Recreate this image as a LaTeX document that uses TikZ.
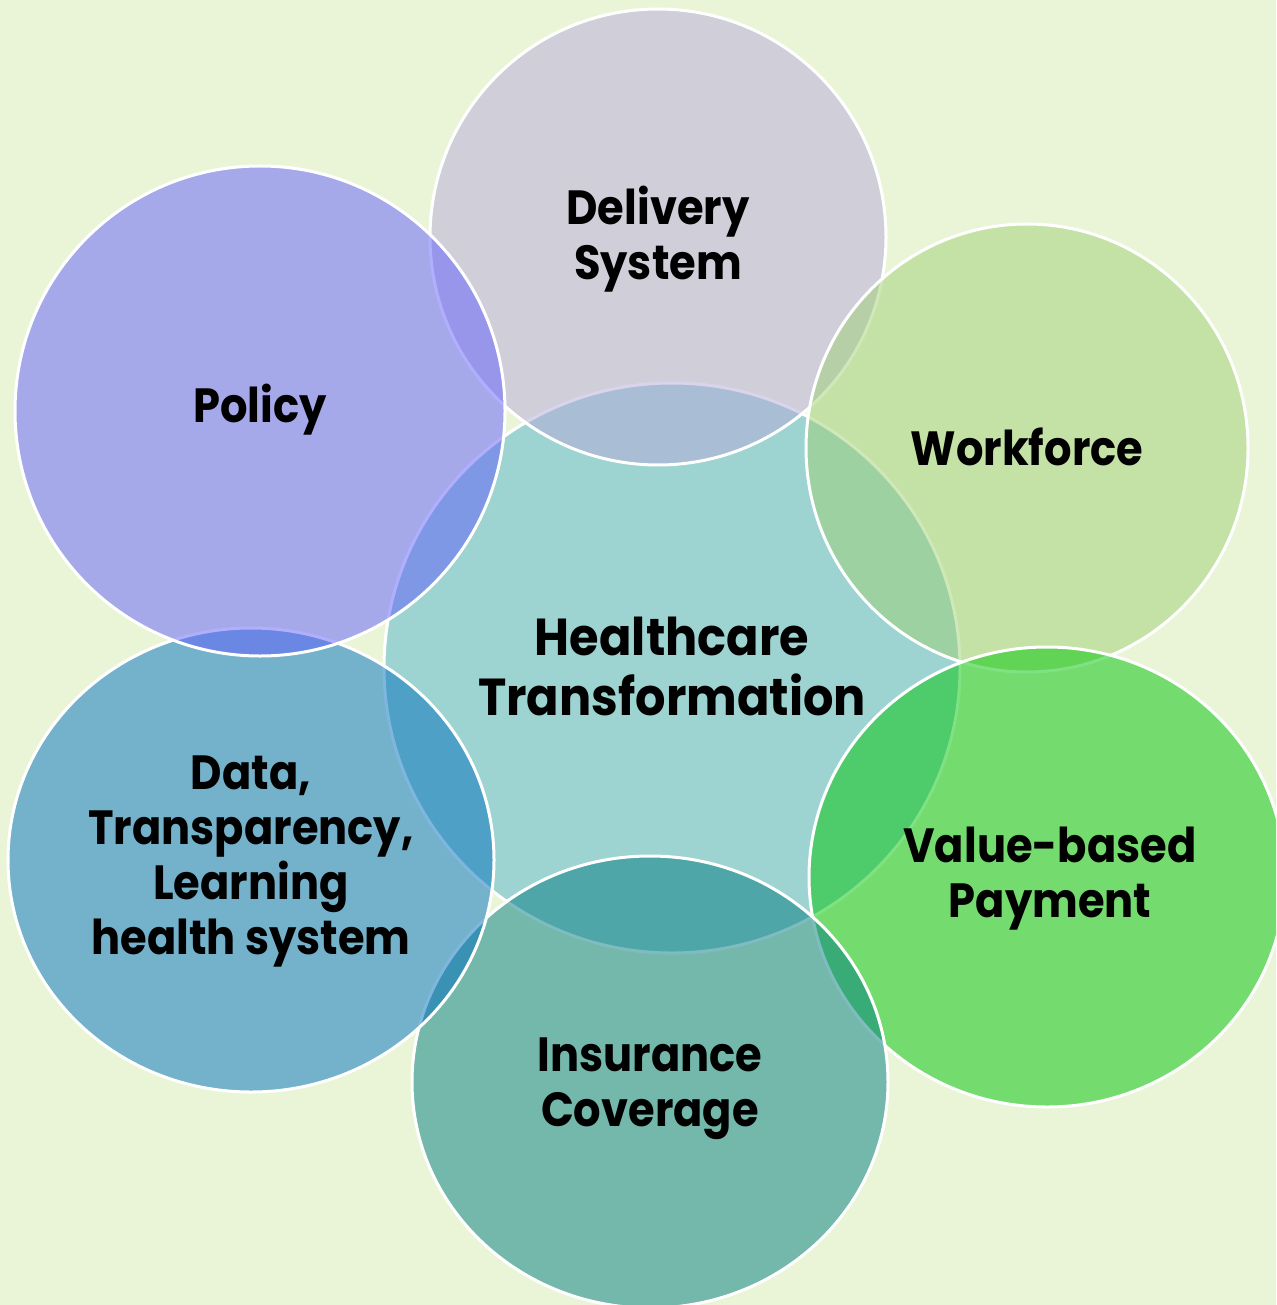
\documentclass[tikz,border=0pt]{standalone}
\usepackage{fontspec}
\newfontfamily\lblfont{Poppins}[BoldFont={Poppins Bold}, BoldFeatures={FakeStretch=0.9}]
\newfontfamily\ctrfont{Poppins}[BoldFont={Poppins Bold}, BoldFeatures={FakeStretch=0.92}]
\usetikzlibrary{shapes.geometric}
\definecolor{bgcol}{HTML}{EAF5D8}
\definecolor{ccenter}{HTML}{52B3CC}
\definecolor{cdeliv}{HTML}{B6A9DA}
\definecolor{cpolicy}{HTML}{625FFC}
\definecolor{cwork}{HTML}{A0D174}
\definecolor{cvalue}{HTML}{00C506}
\definecolor{cinsur}{HTML}{007B80}
\definecolor{cdata}{HTML}{006FBE}
\tikzset{
  bubble/.style={ellipse, draw=white, line width=3pt, fill opacity=0.5, inner sep=0pt},
  lbl/.style={align=center, text=black, font=\lblfont\bfseries\fontsize{48}{55}\selectfont, inner sep=0pt},
  ctrlbl/.style={align=center, text=black, font=\ctrfont\bfseries\fontsize{52}{60}\selectfont, inner sep=0pt}
}
\begin{document}
\begin{tikzpicture}[x=1pt,y=-1pt]
\useasboundingbox (0,0) rectangle (1276,1305);
\clip (0,0) rectangle (1276,1305);
\fill[bgcol] (0,0) rectangle (1276,1305);
\node[bubble, fill=ccenter, minimum width=576pt, minimum height=570pt] (center) at (672,668) {};
\node[bubble, fill=cdeliv, minimum width=456pt, minimum height=456pt] (deliv) at (658,237) {};
\node[bubble, fill=cwork, minimum width=442pt, minimum height=448pt] (work) at (1027,448) {};
\node[bubble, fill=cvalue, minimum width=476pt, minimum height=460pt] (value) at (1047,877) {};
\node[bubble, fill=cinsur, minimum width=476pt, minimum height=452pt] (insur) at (650,1082) {};
\node[bubble, fill=cdata, minimum width=486pt, minimum height=464pt] (data) at (251,860) {};
\node[bubble, fill=cpolicy, minimum width=490pt, minimum height=490pt] (policy) at (260,411) {};
\node[ctrlbl] (tcenter) at (672,666) {Healthcare\\Transformation};
\node[lbl] (tdeliv) at (658,239) {Delivery\\System};
\node[lbl] (tpolicy) at (260,410) {Policy};
\node[lbl] (twork) at (1027,447) {Workforce};
\node[lbl] (tvalue) at (1050,879) {Value-based\\Payment};
\node[lbl] (tinsur) at (650,1089) {Insurance\\Coverage};
\node[lbl] (tdata) at (251,862) {Data,\\Transparency,\\Learning\\health system};
\end{tikzpicture}
\end{document}
